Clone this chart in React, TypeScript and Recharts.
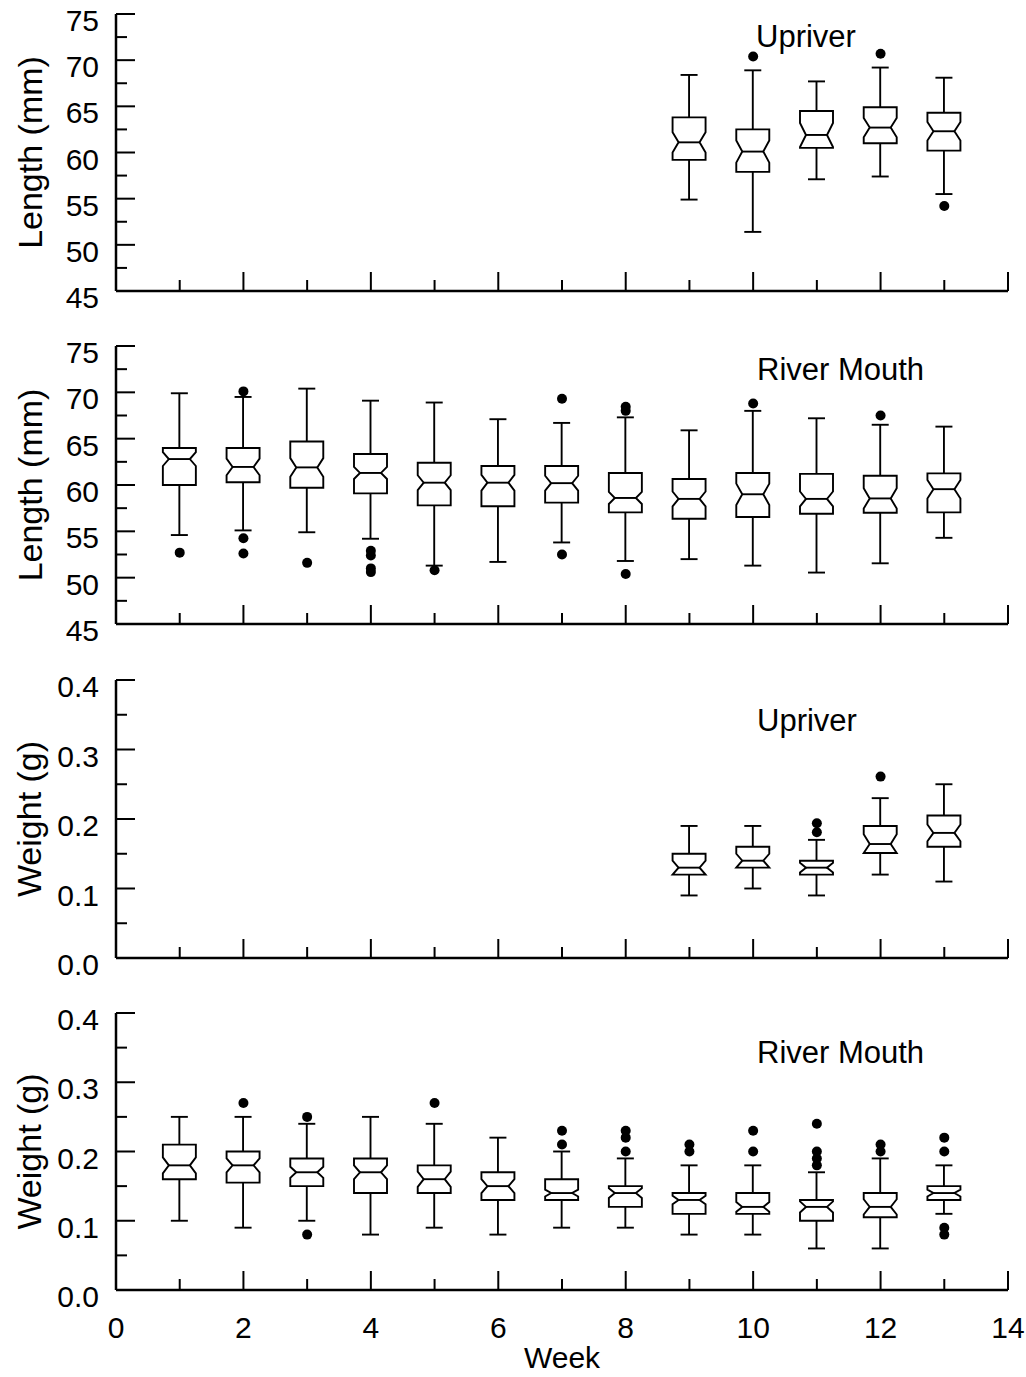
import React from 'react';
import { ComposedChart, Bar, Scatter, XAxis, YAxis } from 'recharts';

const FONT = '"Liberation Sans", Arial, Helvetica, sans-serif';

// ---------- tick values ----------
const weekTicks = [0, 1, 2, 3, 4, 5, 6, 7, 8, 9, 10, 11, 12, 13, 14];
const lengthTicks = [45, 47.5, 50, 52.5, 55, 57.5, 60, 62.5, 65, 67.5, 70, 72.5, 75];
const weightTicks = [0, 0.05, 0.1, 0.15, 0.2, 0.25, 0.3, 0.35, 0.4];

// ---------- Upriver length ----------
const upLenWeeks = [9, 10, 11, 12, 13];
const upLenLow = [54.9, 51.4, 57.1, 57.4, 55.5];
const upLenQ1 = [59.2, 57.9, 60.5, 61.0, 60.2];
const upLenMed = [61.1, 60.1, 61.9, 62.7, 62.3];
const upLenQ3 = [63.8, 62.5, 64.5, 64.9, 64.3];
const upLenHigh = [68.4, 68.9, 67.7, 69.2, 68.1];
const upLenNotch = [1.1, 1.2, 1.3, 1.05, 1.0];
const upLenOutliers: [number, number][] = [[10, 70.4], [12, 70.7], [13, 54.2]];

// ---------- River mouth length ----------
const rmLenWeeks = [1, 2, 3, 4, 5, 6, 7, 8, 9, 10, 11, 12, 13];
const rmLenLow = [54.6, 55.1, 54.9, 54.2, 51.3, 51.7, 53.8, 51.8, 52.0, 51.3, 50.55, 51.55, 54.3];
const rmLenQ1 = [60.0, 60.3, 59.7, 59.1, 57.8, 57.7, 58.1, 57.05, 56.35, 56.55, 56.9, 57.0, 57.05];
const rmLenMed = [62.8, 61.95, 61.9, 61.3, 60.25, 60.25, 60.2, 58.6, 58.5, 59.0, 58.5, 58.55, 59.55];
const rmLenQ3 = [64.0, 64.0, 64.7, 63.35, 62.4, 62.05, 62.05, 61.3, 60.65, 61.3, 61.2, 61.0, 61.25];
const rmLenHigh = [69.9, 69.5, 70.4, 69.1, 68.9, 67.1, 66.7, 67.3, 65.9, 68.0, 67.2, 66.5, 66.3];
const rmLenNotch = [0.75, 0.9, 1.0, 0.65, 0.8, 0.85, 0.8, 0.65, 0.8, 1.15, 0.8, 1.1, 1.0];
const rmLenOutliers: [number, number][] = [
  [1, 52.7], [2, 70.1], [2, 54.25], [2, 52.6], [3, 51.6], [4, 52.9], [4, 52.4], [4, 51.0], [4, 50.6],
  [5, 50.8], [7, 69.3], [7, 52.5], [8, 68.45], [8, 68.0], [8, 50.4], [10, 68.8], [12, 67.5],
];

// ---------- Upriver weight ----------
const upWtWeeks = [9, 10, 11, 12, 13];
const upWtLow = [0.09, 0.10, 0.09, 0.12, 0.11];
const upWtQ1 = [0.12, 0.13, 0.12, 0.151, 0.16];
const upWtMed = [0.13, 0.14, 0.13, 0.164, 0.18];
const upWtQ3 = [0.15, 0.16, 0.14, 0.19, 0.205];
const upWtHigh = [0.19, 0.19, 0.17, 0.23, 0.25];
const upWtNotch = [0.01, 0.01, 0.007, 0.014, 0.012];
const upWtOutliers: [number, number][] = [[11, 0.194], [11, 0.181], [12, 0.261]];

// ---------- River mouth weight ----------
const rmWtWeeks = [1, 2, 3, 4, 5, 6, 7, 8, 9, 10, 11, 12, 13];
const rmWtLow = [0.10, 0.09, 0.10, 0.08, 0.09, 0.08, 0.09, 0.09, 0.08, 0.08, 0.06, 0.06, 0.11];
const rmWtQ1 = [0.16, 0.155, 0.15, 0.14, 0.14, 0.13, 0.13, 0.12, 0.11, 0.11, 0.10, 0.105, 0.13];
const rmWtMed = [0.18, 0.18, 0.17, 0.17, 0.16, 0.15, 0.14, 0.14, 0.13, 0.12, 0.12, 0.12, 0.14];
const rmWtQ3 = [0.21, 0.20, 0.19, 0.19, 0.18, 0.17, 0.16, 0.15, 0.14, 0.14, 0.13, 0.14, 0.15];
const rmWtHigh = [0.25, 0.25, 0.24, 0.25, 0.24, 0.22, 0.20, 0.19, 0.18, 0.18, 0.17, 0.19, 0.18];
const rmWtNotch = [0.0115, 0.01, 0.008, 0.01, 0.011, 0.01, 0.005, 0.007, 0.006, 0.007, 0.008, 0.011, 0.005];
const rmWtOutliers: [number, number][] = [
  [2, 0.27], [3, 0.25], [3, 0.08], [5, 0.27], [7, 0.23], [7, 0.21], [8, 0.23], [8, 0.22], [8, 0.20],
  [9, 0.21], [9, 0.20], [10, 0.23], [10, 0.20], [11, 0.24], [11, 0.20], [11, 0.19], [11, 0.18],
  [12, 0.21], [12, 0.20], [13, 0.22], [13, 0.20], [13, 0.09], [13, 0.08],
];

// ---------- helpers ----------
function makeRows(weeks: number[], lo: number[], q1: number[], med: number[], q3: number[], hi: number[], notch: number[]) {
  return weeks.map((w, i) => ({
    week: w,
    range: [lo[i], hi[i]],
    lo: lo[i], q1: q1[i], med: med[i], q3: q3[i], hi: hi[i], notch: notch[i],
  }));
}
function makeOutliers(pairs: [number, number][]) {
  return pairs.map(([w, v]) => ({ week: w, value: v }));
}

const BoxShape = (props: any) => {
  const { x, y, width, height, payload } = props;
  if (!payload || x == null || y == null || !isFinite(height)) return null;
  const top = Math.min(y, y + height);
  const bot = Math.max(y, y + height);
  const { lo, hi, q1, q3, med, notch } = payload;
  const span = hi - lo;
  const px = (v: number) => bot - ((v - lo) / span) * (bot - top);
  const cx = x + width / 2;
  const hw = width / 2;
  const inset = 6;
  const capHalf = 8.5;
  const yQ3 = px(q3);
  const yQ1 = px(q1);
  const yMed = px(med);
  const yNt = px(Math.min(med + notch, q3));
  const yNb = px(Math.max(med - notch, q1));
  const yHi = px(hi);
  const yLo = px(lo);
  const L = cx - hw;
  const R = cx + hw;
  const pts = [
    [L, yQ3], [R, yQ3], [R, yNt], [R - inset, yMed], [R, yNb], [R, yQ1],
    [L, yQ1], [L, yNb], [L + inset, yMed], [L, yNt],
  ].map((p) => p.join(',')).join(' ');
  return (
    <g stroke="#000" strokeWidth={1.9} fill="none">
      <line x1={cx} x2={cx} y1={yQ3} y2={yHi} />
      <line x1={cx - capHalf} x2={cx + capHalf} y1={yHi} y2={yHi} />
      <line x1={cx} x2={cx} y1={yQ1} y2={yLo} />
      <line x1={cx - capHalf} x2={cx + capHalf} y1={yLo} y2={yLo} />
      <polygon points={pts} fill="#fff" />
      <line x1={L + inset} x2={R - inset} y1={yMed} y2={yMed} />
    </g>
  );
};

const OutlierDot = (props: any) => {
  if (props.cx == null || props.cy == null) return null;
  return <circle cx={props.cx} cy={props.cy} r={5} fill="#000" />;
};

const makeYTick = (isMajor: (v: number) => boolean, fmt: (v: number) => string) => (props: any) => {
  const { x, y, payload } = props;
  const v = payload.value;
  const major = isMajor(v);
  return (
    <g>
      <line x1={x} x2={x + (major ? 19 : 11)} y1={y} y2={y} stroke="#000" strokeWidth={2} />
      {major && (
        <text x={x - 17} y={y + 17} textAnchor="end" fontSize={30} fontFamily={FONT} fill="#000">
          {fmt(v)}
        </text>
      )}
    </g>
  );
};

const makeXTick = (showLabels: boolean) => (props: any) => {
  const { x, y, payload } = props;
  const v = payload.value;
  const major = v % 2 === 0;
  return (
    <g>
      <line x1={x} x2={x} y1={y} y2={y - (major ? 19 : 11)} stroke="#000" strokeWidth={2} />
      {showLabels && major && (
        <text x={x} y={y + 48} textAnchor="middle" fontSize={30} fontFamily={FONT} fill="#000">
          {String(v)}
        </text>
      )}
    </g>
  );
};

const lenMajor = (v: number) => Math.abs(v % 5) < 1e-6;
const wtMajor = (v: number) => Math.round(v * 100) % 10 === 0;
const lenFmt = (v: number) => String(v);
const wtFmt = (v: number) => v.toFixed(1);

type PanelProps = {
  top: number;
  plotTop: number;
  plotHeight: number;
  xAxisHeight: number;
  rows: any[];
  outliers: any[];
  yDomain: [number, number];
  yTicks: number[];
  yTick: any;
  showXLabels: boolean;
};

function Panel(p: PanelProps) {
  const mt = p.plotTop - p.top;
  const h = mt + p.plotHeight + p.xAxisHeight;
  return (
    <div style={{ position: 'absolute', left: 0, top: p.top }}>
      <ComposedChart width={1026} height={h} data={p.rows} margin={{ top: mt, right: 18, bottom: 0, left: 0 }}>
        <XAxis
          dataKey="week"
          type="number"
          domain={[0, 14]}
          ticks={weekTicks}
          interval={0}
          allowDataOverflow
          tickSize={0}
          tickMargin={0}
          tickLine={false}
          height={p.xAxisHeight}
          axisLine={{ stroke: '#000', strokeWidth: 2.5 }}
          tick={makeXTick(p.showXLabels)}
        />
        <YAxis
          type="number"
          domain={p.yDomain}
          ticks={p.yTicks}
          interval={0}
          allowDataOverflow
          width={116}
          tickSize={0}
          tickMargin={0}
          tickLine={false}
          axisLine={{ stroke: '#000', strokeWidth: 2.5 }}
          tick={p.yTick}
        />
        <Bar dataKey="range" barSize={33} isAnimationActive={false} shape={(sp: any) => <BoxShape {...sp} />} />
        <Scatter data={p.outliers} dataKey="value" isAnimationActive={false} shape={OutlierDot} />
      </ComposedChart>
    </div>
  );
}

export default function App() {
  const lenTick = makeYTick(lenMajor, lenFmt);
  const wtTick = makeYTick(wtMajor, wtFmt);
  return (
    <div style={{ position: 'absolute', left: 0, top: 0, width: 1026, height: 1377, background: '#fff', overflow: 'hidden' }}>
      <Panel
        top={0} plotTop={14} plotHeight={277} xAxisHeight={32}
        rows={makeRows(upLenWeeks, upLenLow, upLenQ1, upLenMed, upLenQ3, upLenHigh, upLenNotch)}
        outliers={makeOutliers(upLenOutliers)}
        yDomain={[45, 75]} yTicks={lengthTicks} yTick={lenTick} showXLabels={false}
      />
      <Panel
        top={336} plotTop={346} plotHeight={278} xAxisHeight={32}
        rows={makeRows(rmLenWeeks, rmLenLow, rmLenQ1, rmLenMed, rmLenQ3, rmLenHigh, rmLenNotch)}
        outliers={makeOutliers(rmLenOutliers)}
        yDomain={[45, 75]} yTicks={lengthTicks} yTick={lenTick} showXLabels={false}
      />
      <Panel
        top={670} plotTop={680} plotHeight={278} xAxisHeight={32}
        rows={makeRows(upWtWeeks, upWtLow, upWtQ1, upWtMed, upWtQ3, upWtHigh, upWtNotch)}
        outliers={makeOutliers(upWtOutliers)}
        yDomain={[0, 0.4]} yTicks={weightTicks} yTick={wtTick} showXLabels={false}
      />
      <Panel
        top={1003} plotTop={1013} plotHeight={277} xAxisHeight={84}
        rows={makeRows(rmWtWeeks, rmWtLow, rmWtQ1, rmWtMed, rmWtQ3, rmWtHigh, rmWtNotch)}
        outliers={makeOutliers(rmWtOutliers)}
        yDomain={[0, 0.4]} yTicks={weightTicks} yTick={wtTick} showXLabels={true}
      />
      <svg width={1026} height={1377} style={{ position: 'absolute', left: 0, top: 0, pointerEvents: 'none' }}>
        <g fontFamily={FONT} fill="#000">
          <text x={756} y={47} fontSize={31}>Upriver</text>
          <text x={757} y={380} fontSize={31}>River Mouth</text>
          <text x={757} y={731} fontSize={31}>Upriver</text>
          <text x={757} y={1063} fontSize={31}>River Mouth</text>
          <text transform="translate(42,152.5) rotate(-90)" textAnchor="middle" fontSize={34}>Length (mm)</text>
          <text transform="translate(42,485) rotate(-90)" textAnchor="middle" fontSize={34}>Length (mm)</text>
          <text transform="translate(41,819) rotate(-90)" textAnchor="middle" fontSize={34}>Weight (g)</text>
          <text transform="translate(41,1151.5) rotate(-90)" textAnchor="middle" fontSize={34}>Weight (g)</text>
          <text x={562} y={1368} textAnchor="middle" fontSize={30}>Week</text>
        </g>
      </svg>
    </div>
  );
}
